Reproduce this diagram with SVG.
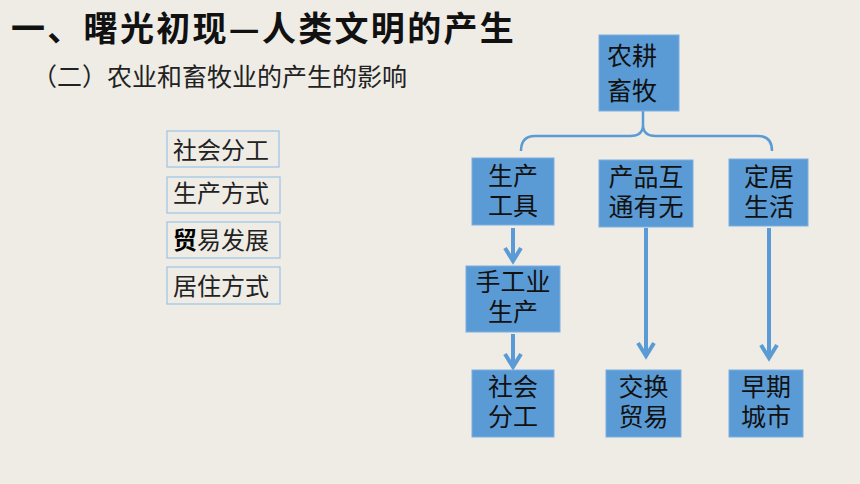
<svg xmlns="http://www.w3.org/2000/svg" width="860" height="484" viewBox="0 0 860 484">
<defs>
<style>
.cjk{font-family:"Noto Sans CJK SC","Noto Sans",sans-serif;fill:#111;}
.nd{font-family:"Liberation Sans","Noto Sans CJK SC",sans-serif;fill:#111;}
.title{font-size:34px;font-weight:bold;letter-spacing:2.3px;}
.sub{font-size:25px;fill:#222;}
.tag rect{fill:none;stroke:#9dc3e6;stroke-width:1.2;}
.tag text{font-size:24px;fill:#222;}
.node rect{fill:#5b9bd5;stroke:#7aaee0;stroke-width:1;}
.node text{font-size:25px;text-anchor:middle;}
.conn{fill:none;stroke:#5b9bd5;}
</style>
<marker id="chev" markerUnits="userSpaceOnUse" markerWidth="24" markerHeight="24" viewBox="0 0 24 24" refX="16" refY="12" orient="auto">
<path d="M3,4 L16,12 L3,20" fill="none" stroke="#5b9bd5" stroke-width="4"/>
</marker>
</defs>
<rect x="0" y="0" width="860" height="484" fill="#eeece5"/>
<text class="cjk title" x="11" y="41">一、曙光初现—人类文明的产生</text>
<text class="cjk sub" x="32" y="86">（二）农业和畜牧业的产生的影响</text>
<g id="tag-shehui" class="tag"><rect x="167" y="131" width="112" height="36"/><text class="cjk" x="173" y="159">社会分工</text></g>
<g id="tag-shengchan" class="tag"><rect x="167" y="177" width="113" height="36"/><text class="cjk" x="173" y="202">生产方式</text></g>
<g id="tag-maoyi" class="tag"><rect x="167" y="222" width="113" height="36"/><text class="cjk" x="173" y="249"><tspan font-weight="bold" fill="#000">贸</tspan>易发展</text></g>
<g id="tag-juzhu" class="tag"><rect x="167" y="267" width="113" height="37"/><text class="cjk" x="173" y="295">居住方式</text></g>
<g id="connectors">
<path class="conn" stroke-width="2.5" d="M643,111 L643,125 M521,151 Q521,136 535,136 L630,136 Q643,136 643,125 Q643,136 656,136 L758,136 Q772,136 772,151"/>
<line class="conn" stroke-width="4" x1="513" y1="228" x2="513" y2="261" marker-end="url(#chev)"/>
<line class="conn" stroke-width="4" x1="513" y1="334" x2="513" y2="367" marker-end="url(#chev)"/>
<line class="conn" stroke-width="4" x1="646" y1="228" x2="646" y2="356" marker-end="url(#chev)"/>
<line class="conn" stroke-width="4" x1="769" y1="228" x2="769" y2="358" marker-end="url(#chev)"/>
</g>
<g id="node-nonggeng" class="node"><rect x="599" y="35" width="80" height="76"/><text class="nd" style="text-anchor:start"><tspan x="607" y="65">农耕</tspan><tspan x="607" y="100">畜牧</tspan></text></g>
<g id="node-gongju" class="node"><rect x="472" y="158" width="82" height="67"/><text class="nd"><tspan x="513" y="185">生产</tspan><tspan x="513" y="215">工具</tspan></text></g>
<g id="node-hutong" class="node"><rect x="599" y="160" width="94" height="67"/><text class="nd"><tspan x="646" y="186">产品互</tspan><tspan x="646" y="216">通有无</tspan></text></g>
<g id="node-dingju" class="node"><rect x="729" y="159" width="79" height="67"/><text class="nd"><tspan x="769" y="186">定居</tspan><tspan x="769" y="216">生活</tspan></text></g>
<g id="node-shougongye" class="node"><rect x="466" y="266" width="94" height="66"/><text class="nd"><tspan x="513" y="291">手工业</tspan><tspan x="513" y="321">生产</tspan></text></g>
<g id="node-fengong" class="node"><rect x="472" y="370" width="82" height="67"/><text class="nd"><tspan x="513" y="396">社会</tspan><tspan x="513" y="426">分工</tspan></text></g>
<g id="node-jiaohuan" class="node"><rect x="606" y="370" width="75" height="67"/><text class="nd"><tspan x="643.5" y="396">交换</tspan><tspan x="643.5" y="426">贸易</tspan></text></g>
<g id="node-chengshi" class="node"><rect x="729" y="370" width="74" height="67"/><text class="nd"><tspan x="766" y="396">早期</tspan><tspan x="766" y="426">城市</tspan></text></g>
</svg>
